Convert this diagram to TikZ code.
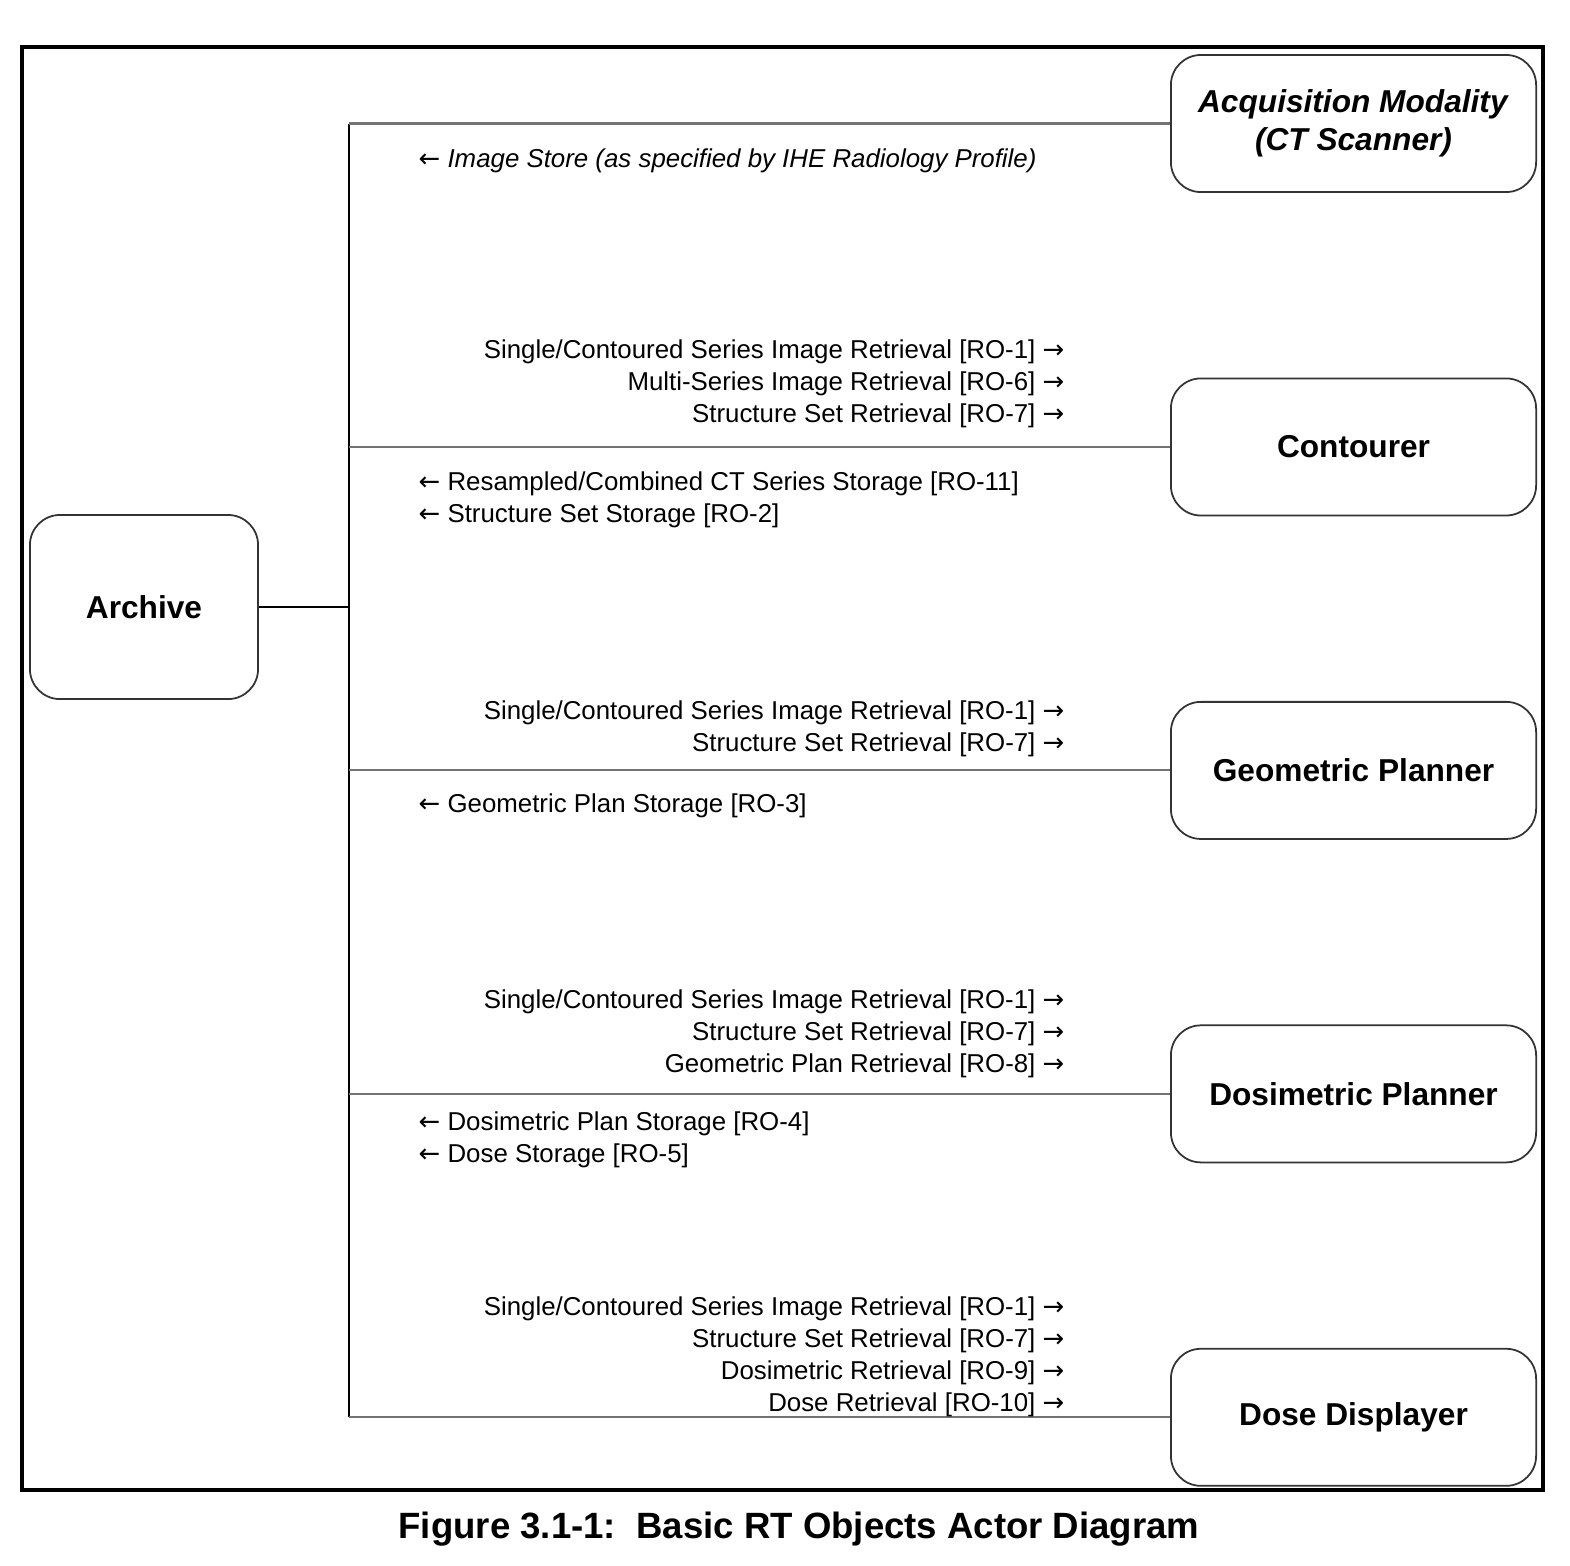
\documentclass[tikz,border=0pt]{standalone}
\usepackage{fontspec}
\setmainfont{Liberation Sans}
\newfontfamily\arrowfont{DejaVu Sans}
\newcommand{\toR}{{\arrowfont →}}
\newcommand{\toL}{{\arrowfont ←}}
\usetikzlibrary{positioning}

\begin{document}
\begin{tikzpicture}[
  x=0.01cm, y=-0.01cm,
  node distance=1.845cm,
  actor/.style={rectangle, rounded corners=0.3cm, draw=black!80, line width=0.5pt,
                minimum width=3.65cm, minimum height=1.37cm, align=center,
                font=\fontsize{9}{10.8}\selectfont\bfseries},
  msgright/.style={anchor=east, align=right, inner sep=0pt,
                   font=\fontsize{7.35}{9.1}\selectfont},
  msgleft/.style={anchor=west, align=left, inner sep=0pt,
                  font=\fontsize{7.35}{9.1}\selectfont},
  busline/.style={line width=0.5pt, black},
  tapline/.style={line width=0.6pt, black!55}
]
\useasboundingbox (0,0) rectangle (1570,1565);

% frame
\draw[line width=1.2pt] (22,47) rectangle (1543,1490);

% Archive
\node[actor, minimum width=2.28cm, minimum height=1.84cm] (archive) at (144,607) {Archive};

% actors on the right
\node[actor] (acq) at (1353.5,123.5) {\textit{Acquisition Modality}\\\textit{(CT Scanner)}};
\node[actor, below=of acq] (cont) {Contourer};
\node[actor, below=of cont] (geom) {Geometric Planner};
\node[actor, below=of geom] (dosi) {Dosimetric Planner};
\node[actor, below=of dosi] (disp) {Dose Displayer};

% bus
\coordinate (bus) at (349,607);
\draw[busline] (archive.east) -- (bus);
\draw[busline] (bus |- acq.west) -- (bus |- disp.west);
\foreach \actor in {acq,cont,geom,dosi,disp}
  \draw[tapline] (bus |- \actor.west) -- (\actor.west);

% Image store
\node[msgleft] (m-acq) at (418,161) {\toL\ \textit{Image Store (as specified by IHE Radiology Profile)}};

% Contourer
\node[msgright] (m-cont-out) at (1065,384) {Single/Contoured Series Image Retrieval [RO-1] \toR\\
  Multi-Series Image Retrieval [RO-6] \toR\\Structure Set Retrieval [RO-7] \toR};
\node[msgleft] (m-cont-in) at (418,499.5) {\toL\ Resampled/Combined CT Series Storage [RO-11]\\
  \toL\ Structure Set Storage [RO-2]};

% Geometric Planner
\node[msgright] (m-geom-out) at (1065,729) {Single/Contoured Series Image Retrieval [RO-1] \toR\\
  Structure Set Retrieval [RO-7] \toR};
\node[msgleft] (m-geom-in) at (418,806) {\toL\ Geometric Plan Storage [RO-3]};

% Dosimetric Planner
\node[msgright] (m-dosi-out) at (1065,1034) {Single/Contoured Series Image Retrieval [RO-1] \toR\\
  Structure Set Retrieval [RO-7] \toR\\Geometric Plan Retrieval [RO-8] \toR};
\node[msgleft] (m-dosi-in) at (418,1140) {\toL\ Dosimetric Plan Storage [RO-4]\\\toL\ Dose Storage [RO-5]};

% Dose Displayer
\node[msgright] (m-disp-out) at (1065,1357) {Single/Contoured Series Image Retrieval [RO-1] \toR\\
  Structure Set Retrieval [RO-7] \toR\\Dosimetric Retrieval [RO-9] \toR\\Dose Retrieval [RO-10] \toR};

% caption
\node[font=\fontsize{10.4}{12}\selectfont\bfseries] (caption) at (799,1529)
  {Figure 3.1-1:\ \ Basic RT Objects Actor Diagram};

\end{tikzpicture}
\end{document}
